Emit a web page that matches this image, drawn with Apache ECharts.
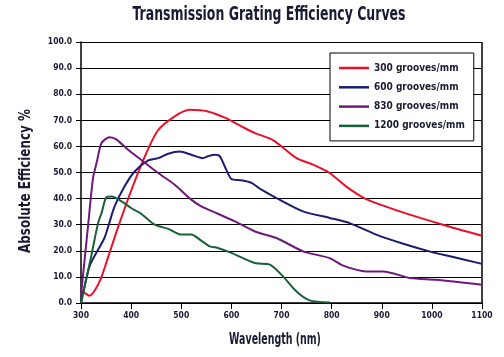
<!DOCTYPE html>
<html><head><meta charset="utf-8">
<script src="https://cdn.jsdelivr.net/npm/echarts@6/dist/echarts.min.js"></script>
<style>html,body{margin:0;padding:0;background:#fff}#c{width:504px;height:357px}</style>
</head><body><div id="c"></div>
<script>
var chartTitle = 'Transmission Grating Efficiency Curves';
var xName = 'Wavelength (nm)';
var yName = 'Absolute Efficiency %';
var seriesNames = ['300 grooves/mm','600 grooves/mm','830 grooves/mm','1200 grooves/mm'];
var xTicks = [300,400,500,600,700,800,900,1000,1100];
var yTicks = [0,10,20,30,40,50,60,70,80,90,100];

var g300X = [300,308,317,328,340,354,373,400,427,453,487,517,553,587,620,646,683,730,763,796,830,869,936,1022,1100];
var g300Y = [5.0,3.8,2.8,5,9.5,17.5,28.5,43,56,66,71.5,74,73.4,71,67.7,65.2,62.4,55.5,53,49.8,44.5,39.8,35.1,30,25.8];

var g600X = [300,317,334,347,357,367,387,407,434,454,474,497,520,543,553,567,577,590,600,620,640,660,690,743,796,836,889,943,1002,1036,1100];
var g600Y = [0,14,20.4,25,31,37,44.7,50.4,54.6,55.5,57.2,58,56.8,55.5,56.2,56.8,56.2,51,47.5,47,46,43.4,40.2,35.1,32.6,30.6,26.2,22.7,19.4,17.9,15];

var g830X = [300,314,324,331,341,357,371,394,420,454,487,520,540,573,607,647,690,743,796,823,869,903,956,1009,1100];
var g830Y = [3,29.4,47.9,53.6,61.3,63.5,62.6,58.7,54.9,49.8,45.3,39.6,37,34.2,31.3,27.4,24.9,19.8,17.2,14.3,12.1,12.1,9.6,8.9,7.0];

var g1200X = [300,321,334,341,351,361,381,400,420,447,474,500,520,537,557,573,600,647,677,703,730,756,797];
var g1200Y = [0,18.5,30.6,34.5,40.6,40.8,38.9,36.4,34.2,30,28.4,26.2,26.2,24.3,21.7,21.1,19.2,15.3,14.7,10.2,4.4,1.0,0.2];

function zip(xs, ys){ return xs.map(function(x,i){ return [x, ys[i]]; }); }
var colors = ['#e8102a','#1c1c70','#6e1a7a','#16603a'];
var allX = [g300X,g600X,g830X,g1200X];
var allY = [g300Y,g600Y,g830Y,g1200Y];
var font = "'DejaVu Sans Condensed','Liberation Sans Narrow',sans-serif";
var txt = '#1a1a33';

function label(text, x, y, size, sx, rot){
  return {type:'text', x:x, y:y, rotation:rot||0, scaleX:sx, scaleY:1, silent:true,
    style:{text:text, fontFamily:font, fontWeight:'bold', fontSize:size, fill:txt,
      align:'center', verticalAlign:'middle', textAlign:'center', textVerticalAlign:'middle'}};
}

var chart = echarts.init(document.getElementById('c'), null, {renderer:'canvas'});
chart.setOption({
  animation:false,
  grid:{left:81, right:22, top:42, bottom:54, containLabel:false},
  legend:{orient:'vertical', left:330, top:53, data:seriesNames,
    backgroundColor:'#fff', borderColor:'#000', borderWidth:1,
    padding:[9,9,9,9], itemGap:7.3, itemWidth:30, itemHeight:2.5, icon:'rect',
    textStyle:{fontFamily:font, fontWeight:'bold', fontSize:10, lineHeight:12, color:txt}},
  xAxis:{type:'value', min:300, max:1100, interval:100,
    axisLine:{lineStyle:{color:'#000', width:1.5}},
    axisTick:{show:true, length:6, lineStyle:{color:'#000'}},
    axisLabel:{fontFamily:font, fontWeight:'bold', fontSize:8.5, color:txt, margin:8,
      formatter:function(v){return xTicks.indexOf(v)>=0? String(v):'';}},
    splitLine:{show:false}},
  yAxis:{type:'value', min:0, max:100, interval:10,
    axisLine:{show:true, lineStyle:{color:'#000', width:1.5}},
    axisTick:{show:true, length:5, lineStyle:{color:'#000'}},
    axisLabel:{fontFamily:font, fontWeight:'bold', fontSize:8.5, color:txt, margin:9,
      formatter:function(v){return yTicks.indexOf(v)>=0? v.toFixed(1):'';}},
    splitLine:{show:true, lineStyle:{color:'#000', width:1}}},
  graphic:[
    {type:'line', silent:true, shape:{x1:482, y1:42, x2:482, y2:303}, style:{stroke:'#000', lineWidth:1.5}},
    label(chartTitle, 269, 15, 19, 0.73, 0),
    label(xName, 275, 340, 15, 0.7, 0),
    label(yName, 26, 181, 16, 0.83, Math.PI/2)
  ],
  series: seriesNames.map(function(n,i){
    return {name:n, type:'line', data:zip(allX[i], allY[i]), symbol:'none',
      smooth:0.25, lineStyle:{color:colors[i], width:2}, itemStyle:{color:colors[i]}};
  })
});
</script></body></html>
